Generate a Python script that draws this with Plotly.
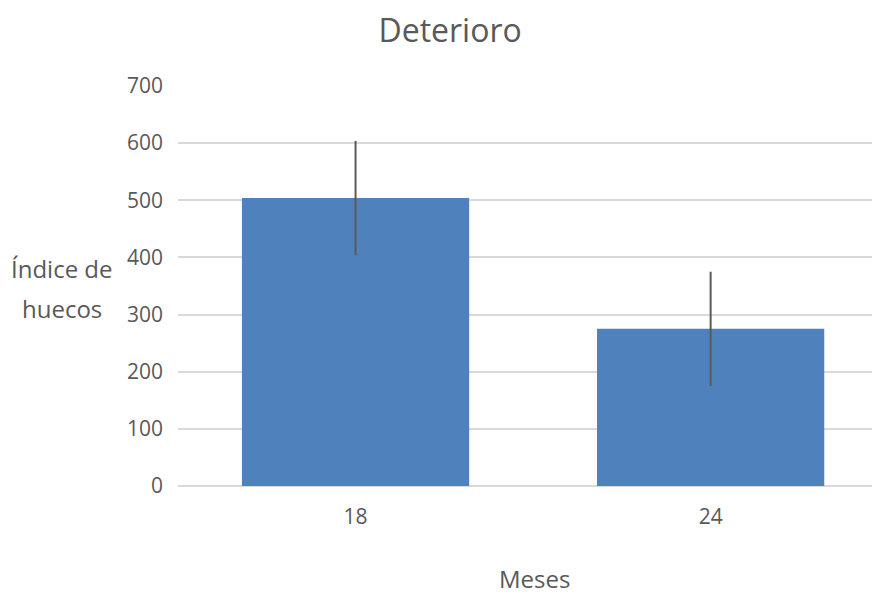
import plotly.graph_objects as go

categories = ["18", "24"]
values = [504, 275]
errors = [100, 100]
y_ticks = [0, 100, 200, 300, 400, 500, 600, 700]

FONT = "Open Sans, sans-serif"
GREY = "#595959"

fig = go.Figure(go.Bar(
    x=categories, y=values,
    marker=dict(color="#4F81BD", line=dict(width=0)),
    error_y=dict(type="data", array=errors, visible=True, color="#5a5a5a",
                 thickness=2, width=0),
))

fig.update_layout(
    width=872, height=588,
    margin=dict(l=170, r=0, t=78, b=110),
    paper_bgcolor="white", plot_bgcolor="white",
    bargap=0.36,
    showlegend=False,
    font=dict(family=FONT, color=GREY, size=21),
    title=dict(text="Deterioro", x=0.507, xanchor="center", y=0.962, yanchor="middle",
               font=dict(size=32, color=GREY, family=FONT)),
)
fig.update_xaxes(type="category", range=[-0.5, 1.477], showgrid=False, showline=False,
                 ticks="", tickfont=dict(size=21, color=GREY), ticklabelstandoff=16)
fig.update_yaxes(range=[0, 700], tickvals=y_ticks, showgrid=True, gridcolor="#d9d9d9",
                 gridwidth=2, zeroline=True, zerolinecolor="#d9d9d9", zerolinewidth=2,
                 ticks="", tickfont=dict(size=21, color=GREY), ticklabelstandoff=14)

fig.add_annotation(text="Índice de", xref="paper", yref="paper",
                   x=-0.165, y=0.545, xanchor="center", yanchor="middle", showarrow=False,
                   font=dict(size=24, color=GREY, family=FONT))
fig.add_annotation(text="huecos", xref="paper", yref="paper",
                   x=-0.165, y=0.445, xanchor="center", yanchor="middle", showarrow=False,
                   font=dict(size=24, color=GREY, family=FONT))
fig.add_annotation(text="Meses", xref="paper", yref="paper",
                   x=0.5085, y=-0.23, xanchor="center", yanchor="middle", showarrow=False,
                   font=dict(size=24, color=GREY, family=FONT))

fig.write_html("out.html")
